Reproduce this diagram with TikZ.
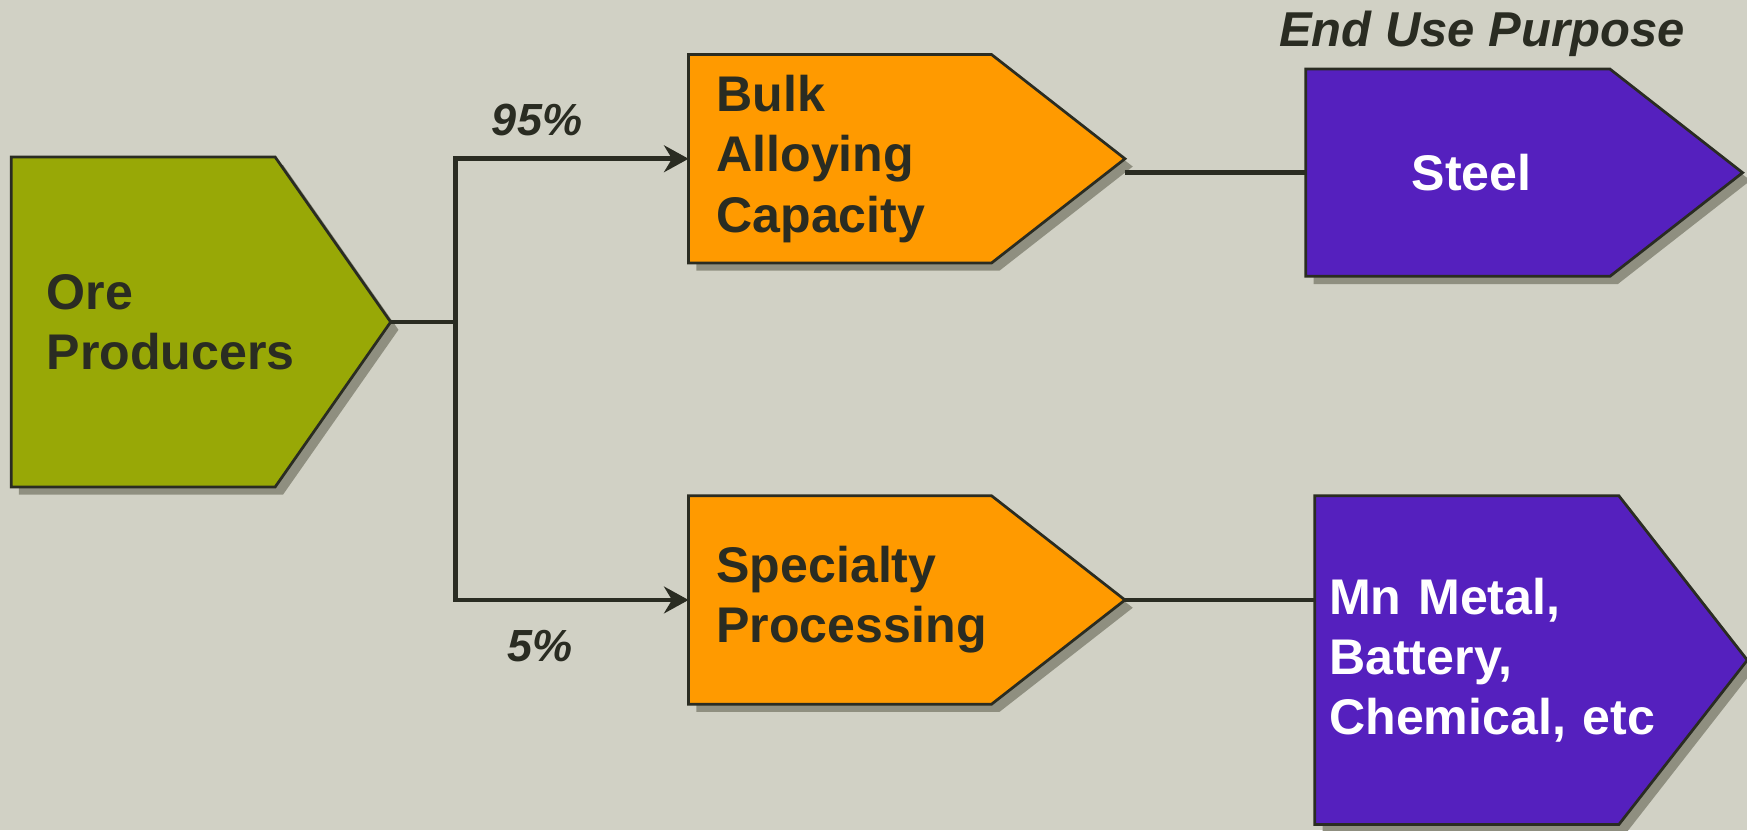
\documentclass[tikz,border=0pt]{standalone}
\usepackage{fontspec}
\setmainfont{Liberation Sans}
\usetikzlibrary{arrows.meta}
\usetikzlibrary{positioning}
\usetikzlibrary{shadows}
\usetikzlibrary{shapes.symbols}

\definecolor{bgc}{RGB}{209,209,197}
\definecolor{oregreen}{RGB}{152,168,6}
\definecolor{bulkorange}{RGB}{255,154,0}
\definecolor{usepurple}{RGB}{85,32,190}
\definecolor{shade}{RGB}{143,143,128}
\definecolor{ink}{RGB}{42,44,34}

\tikzset{
  tipbox/.style={shape=signal, signal to=east, draw=ink, line width=0.7pt,
    outer sep=0pt, inner ysep=0pt, align=left,
    font=\fontsize{12.8}{15.4}\selectfont\bfseries,
    drop shadow={shadow xshift=0.07cm, shadow yshift=-0.07cm, fill=shade, opacity=1}},
  link/.style={draw=ink, line width=1.2pt},
  pct/.style={text=ink, font=\fontsize{11.5}{14}\selectfont\bfseries\itshape}
}

\begin{document}
\begin{tikzpicture}
% Background and page size
\fill[bgc] (0,0) rectangle (15.68,-7.45);
\useasboundingbox (0,0) rectangle (15.68,-7.45);

% Boxes
\node[tipbox, fill=oregreen, text=ink, text width=1.73cm, inner xsep=0.32cm,
  minimum height=2.96cm, signal pointer angle=110] (ore) at (1.285,-2.89) {Ore\\Producers};
\node[tipbox, fill=bulkorange, text=ink, text width=2.22cm, inner xsep=0.25cm,
  minimum height=1.87cm, signal pointer angle=76] (bulk) at (7.54,-1.425) {Bulk\\Alloying\\Capacity};
\node[tipbox, fill=bulkorange, text=ink, text width=2.22cm, inner xsep=0.25cm,
  minimum height=1.87cm, signal pointer angle=76] (spec) at (7.54,-5.385) {Specialty\\Processing};
\node[tipbox, fill=usepurple, text=white, text width=0.83cm, inner xsep=0.95cm,
  minimum height=1.86cm, signal pointer angle=76] (steel) at (13.085,-1.55) {Steel};
\node[tipbox, fill=usepurple, text=white, text width=2.47cm, inner xsep=0.13cm,
  minimum height=2.95cm, signal pointer angle=104] (mn) at (13.165,-5.925) {Mn Metal,\\Battery,\\Chemical,~etc};

% Connectors
\coordinate[right=0.58cm of ore.east] (fork);
\draw[link] (ore.east) -- (fork);
\draw[link, -{Stealth[length=0.22cm, width=0.24cm]}] (fork) |- (bulk.west);
\draw[link, -{Stealth[length=0.22cm, width=0.24cm]}] (fork) |- (spec.west);
\draw[link] (bulk.east |- steel.west) -- (steel.west);
\draw[link] (spec.east) -- (spec.east -| mn.west);

% Labels
\node[pct] (p95) at (4.82,-1.08) {95\%};
\node[pct] (p5) at (4.85,-5.80) {5\%};
\node[pct, font=\fontsize{12.5}{15}\selectfont\bfseries\itshape] (enduse) at (13.30,-0.30) {End Use Purpose};
\end{tikzpicture}
\end{document}
